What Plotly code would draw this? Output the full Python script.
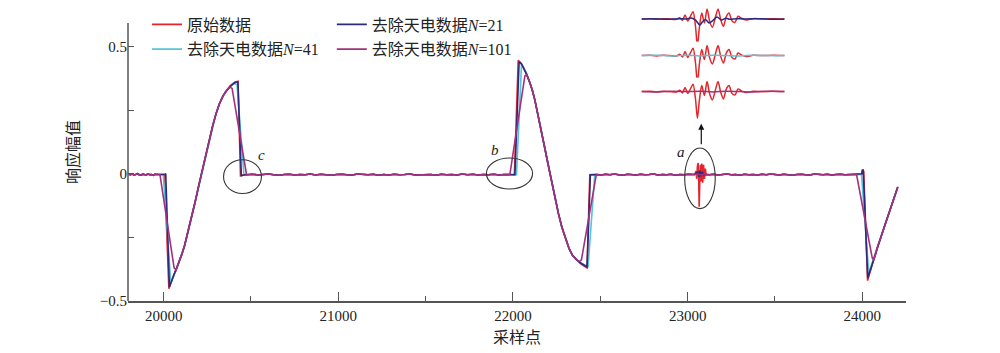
import plotly.graph_objects as go

# ---------------- data ----------------
# flat (noise) baseline segments shared by all series, values in 1/1000
segA_x = list(range(19800, 19971, 10))
segA_y = [-2, -4, -1, -5, -3, 0, -4, -6, -2, -3, -5, -1, -4, -3, -6, -2, -4, -3]
segB_x = list(range(20480, 21971, 30))
segB_y = [-4, -2, -5, -3, -1, -4, -6, -3, -2, -5, -3, -4, -1, -5, -2, -4, -6, -3, -2, -4,
          -5, -1, -3, -4, -2, -6, -3, -5, -2, -4, -3, -1, -5, -4, -2, -3, -6, -2, -4, -3,
          -5, -1, -4, -2, -5, -3, -4, -2, -5, -3]
segC1_x = list(range(22480, 23031, 25))
segC1_y = [-3, -5, -2, -4, -1, -4, -6, -2, -3, -5, -2, -4, -3, -1, -5, -3, -4, -2, -6, -3,
           -4, -2, -3]
segC2_x = list(range(23125, 23951, 25))
segC2_y = [-4, -2, -5, -3, -1, -4, -3, -6, -2, -4, -3, -5, -2, -4, -1, -3, -5, -2, -4, -6,
           -3, -2, -4, -5, -1, -3, -4, -2, -5, -3, -2, -4, -3, -2]

# shared smooth parts of the pulses
curve1_x = [20090, 20105, 20120, 20140, 20160, 20180, 20200, 20220, 20240, 20260, 20280,
            20300, 20320, 20340, 20355]
curve1_y = [-0.345, -0.315, -0.282, -0.228, -0.170, -0.112, -0.050, 0.012, 0.072, 0.130,
            0.186, 0.236, 0.276, 0.306, 0.322]
curve2_x = [22095, 22110, 22125, 22140, 22160, 22180, 22200, 22220, 22240, 22260, 22280,
            22300, 22320, 22340, 22360]
curve2_y = [0.36, 0.33, 0.29, 0.243, 0.176, 0.108, 0.040, -0.030, -0.095, -0.156, -0.21,
            -0.255, -0.292, -0.32, -0.336]
curve3_x = [24085, 24108, 24132, 24156, 24180, 24203]
curve3_y = [-0.292, -0.246, -0.196, -0.148, -0.1, -0.052]

# 原始数据 (original)
raw_p1_x = [20005, 20030, 20038, 20060, 20075]
raw_p1_y = [-0.003, -0.452, -0.435, -0.395, -0.37]
raw_p1e_x = [20380, 20410, 20426, 20440, 20462]
raw_p1e_y = [0.345, 0.36, 0.363, -0.008, -0.004]
raw_p2_x = [22008, 22030, 22045, 22062, 22077]
raw_p2_y = [-0.004, 0.446, 0.435, 0.415, 0.392]
raw_p2e_x = [22385, 22405, 22424, 22440, 22460]
raw_p2e_y = [-0.352, -0.362, -0.37, -0.004, -0.003]
raw_sf_x = [23040, 23048, 23052, 23056, 23060, 23063, 23066, 23069, 23073, 23077, 23081,
            23086, 23091, 23096, 23101, 23106, 23112]
raw_sf_y = [-0.003, 0.01, -0.02, 0.03, 0.042, -0.02, -0.13, -0.04, 0.035, -0.03, 0.04,
            -0.035, 0.035, -0.02, 0.02, -0.005, -0.003]
raw_p3_x = [23998, 24002, 24008, 24030, 24036, 24068]
raw_p3_y = [-0.002, 0.012, 0.01, -0.42, -0.405, -0.335]

# 去除天电数据 N=21
n21_p1_x = [20008, 20012, 20033, 20040, 20060, 20075]
n21_p1_y = [-0.002, 0.0, -0.445, -0.43, -0.395, -0.37]
n21_p1e_x = [20385, 20408, 20425, 20445, 20465]
n21_p1e_y = [0.345, 0.358, 0.36, -0.008, -0.004]
n21_p2_x = [22011, 22035, 22050, 22064, 22077]
n21_p2_y = [-0.004, 0.44, 0.43, 0.413, 0.392]
n21_p2e_x = [22385, 22405, 22424, 22443, 22460]
n21_p2e_y = [-0.35, -0.36, -0.366, -0.004, -0.003]
n21_sf_x = [23040, 23058, 23064, 23070, 23076, 23084, 23092, 23100, 23112]
n21_sf_y = [-0.003, 0.006, -0.012, 0.012, -0.01, 0.008, -0.006, -0.002, -0.003]
n21_p3_x = [23996, 24000, 24005, 24031, 24040, 24068]
n21_p3_y = [0.0, 0.014, 0.014, -0.41, -0.39, -0.335]

# 去除天电数据 N=41
n41_p1_x = [19998, 20041, 20071]
n41_p1_y = [-0.003, -0.43, -0.38]
n41_p1e_x = [20375, 20390, 20400, 20420, 20460]
n41_p1e_y = [0.338, 0.35, 0.356, 0.35, -0.005]
n41_p2_x = [22020, 22049, 22077]
n41_p2_y = [-0.004, 0.431, 0.395]
n41_p2e_x = [22385, 22410, 22430, 22468]
n41_p2e_y = [-0.35, -0.36, -0.365, -0.004]
n41_sf_x = [23040, 23060, 23075, 23090, 23112]
n41_sf_y = [-0.004, -0.002, -0.005, -0.002, -0.004]
n41_p3_x = [23995, 24037, 24070]
n41_p3_y = [-0.002, -0.39, -0.328]

# 去除天电数据 N=101
n101_p1_x = [19979, 20060, 20071]
n101_p1_y = [-0.004, -0.37, -0.378]
n101_p1e_x = [20368, 20380, 20392, 20475]
n101_p1e_y = [0.334, 0.34, 0.335, -0.005]
n101_p2_x = [21982, 22068, 22077, 22086]
n101_p2_y = [-0.004, 0.384, 0.388, 0.378]
n101_p2e_x = [22372, 22382, 22392, 22477]
n101_p2e_y = [-0.342, -0.344, -0.338, -0.004]
n101_sf_x = [23040, 23058, 23072, 23088, 23112]
n101_sf_y = [-0.003, -0.001, -0.005, -0.002, -0.004]
n101_p3_x = [23967, 24057, 24064, 24072]
n101_p3_y = [-0.003, -0.332, -0.337, -0.326]

# inset (zoom of region a), arbitrary units
ins_x = [65, 90, 110, 130, 150, 170, 180, 188, 196, 204, 212, 220, 227, 233, 239, 246, 254,
         262, 270, 278, 287, 295, 303, 311, 320, 328, 337, 346, 355, 365, 380, 400, 430, 460, 495]
ins_raw = [0, 1, -1, 1, 0, -1, 4, -4, 12, -6, 8, 22, -20, -80, -25, 18, -12,
           30, -8, -25, 5, 30, -2, -22, 8, 18, -6, -10, 8, 2, -3, 1, 0, 1, 0]
ins21_x = [65, 100, 140, 180, 200, 215, 228, 240, 250, 258, 268, 280, 292, 305, 318, 330,
           350, 380, 420, 460, 495]
ins21_y = [0, 1, -1, 1, 0, 3, -4, -18, -6, -2, -12, -4, 6, -3, 2, -1, 1, 0, 1, -1, 0]
insf_x = [65, 110, 160, 200, 240, 280, 320, 360, 400, 450, 495]
ins41_y = [0, 1, -1, 1, -1, 1, 0, -1, 1, 0, 0]
ins101_y = [0, -1, 1, 0, 1, -1, 1, 0, -1, 1, 0]

C_RAW = "#e3262b"
C_21 = "#2c2a7c"
C_41 = "#55c3d8"
C_101 = "#a2307e"


def series(p1x, p1y, p1ex, p1ey, p2x, p2y, p2ex, p2ey, sfx, sfy, p3x, p3y):
    xs = (segA_x + p1x + curve1_x + p1ex + segB_x + p2x + curve2_x + p2ex +
          segC1_x + sfx + segC2_x + p3x + curve3_x)
    ys = ([v / 1000 for v in segA_y] + p1y + curve1_y + p1ey + [v / 1000 for v in segB_y] +
          p2y + curve2_y + p2ey + [v / 1000 for v in segC1_y] + sfy +
          [v / 1000 for v in segC2_y] + p3y + curve3_y)
    return xs, ys


raw = series(raw_p1_x, raw_p1_y, raw_p1e_x, raw_p1e_y, raw_p2_x, raw_p2_y, raw_p2e_x, raw_p2e_y,
             raw_sf_x, raw_sf_y, raw_p3_x, raw_p3_y)
s21 = series(n21_p1_x, n21_p1_y, n21_p1e_x, n21_p1e_y, n21_p2_x, n21_p2_y, n21_p2e_x, n21_p2e_y,
             n21_sf_x, n21_sf_y, n21_p3_x, n21_p3_y)
s41 = series(n41_p1_x, n41_p1_y, n41_p1e_x, n41_p1e_y, n41_p2_x, n41_p2_y, n41_p2e_x, n41_p2e_y,
             n41_sf_x, n41_sf_y, n41_p3_x, n41_p3_y)
s101 = series(n101_p1_x, n101_p1_y, n101_p1e_x, n101_p1e_y, n101_p2_x, n101_p2_y, n101_p2e_x,
              n101_p2e_y, n101_sf_x, n101_sf_y, n101_p3_x, n101_p3_y)

SERIF = "'Liberation Serif', 'Noto Sans CJK SC', serif"
NUMF = "'Liberation Serif', serif"
CJK = "'Noto Sans CJK SC', sans-serif"
fig = go.Figure()
LW = 1.6
fig.add_trace(go.Scatter(x=raw[0], y=raw[1], mode="lines", name="原始数据",
                         line=dict(color=C_RAW, width=LW), legend="legend", legendgroup="a"))
fig.add_trace(go.Scatter(x=s41[0], y=s41[1], mode="lines", name="去除天电数据<i>N</i>=41",
                         line=dict(color=C_41, width=LW), legend="legend", legendgroup="c"))
fig.add_trace(go.Scatter(x=s21[0], y=s21[1], mode="lines", name="去除天电数据<i>N</i>=21",
                         line=dict(color=C_21, width=LW), legend="legend2", legendgroup="b"))
fig.add_trace(go.Scatter(x=s101[0], y=s101[1], mode="lines", name="去除天电数据<i>N</i>=101",
                         line=dict(color=C_101, width=LW), legend="legend2", legendgroup="d"))

# inset rows
for ya, fx, fy, col in [("y2", ins21_x, ins21_y, C_21), ("y3", insf_x, ins41_y, C_41),
                        ("y4", insf_x, ins101_y, C_101)]:
    fig.add_trace(go.Scatter(x=ins_x, y=ins_raw, xaxis="x2", yaxis=ya, mode="lines",
                             line=dict(color=C_RAW, width=1.5, shape="spline", smoothing=0.8),
                             showlegend=False))
    fig.add_trace(go.Scatter(x=fx, y=fy, xaxis="x2", yaxis=ya, mode="lines",
                             line=dict(color=col, width=1.5, shape="spline", smoothing=0.8),
                             showlegend=False))

AX = "#555555"
fig.update_layout(
    width=1000, height=353,
    margin=dict(l=128, r=93.5, t=3, b=51.5),
    paper_bgcolor="white", plot_bgcolor="white",
    font=dict(family=SERIF, size=15, color="#222"),
    xaxis=dict(range=[19796, 24250], showgrid=False, zeroline=False, showline=True,
               linecolor=AX, linewidth=1.5, ticks="inside", ticklen=9, tickcolor=AX,
               tickwidth=1.3, dtick=1000, tick0=20000, tickformat="d",
               tickfont=dict(family=NUMF, size=15, color="#222"),
               minor=dict(dtick=500, ticks="inside", ticklen=5, tickcolor=AX, tickwidth=1.3),
               title=dict(text="采样点", font=dict(family=CJK, size=16), standoff=6)),
    yaxis=dict(range=[-0.5, 0.6706], showgrid=False, zeroline=False, showline=False,
               ticks="inside", ticklen=6, tickcolor=AX, tickwidth=1.3,
               tickvals=[-0.5, 0, 0.5], ticktext=["\u22120.5", "0", "0.5"],
               tickfont=dict(family=NUMF, size=15, color="#222"),
               minor=dict(tickvals=[-0.25, 0.25], ticks="inside", ticklen=6,
                          tickcolor=AX, tickwidth=1.3),
               title=dict(text="响应幅值", font=dict(family=CJK, size=16), standoff=16)),
    xaxis2=dict(domain=[0.660, 0.844], range=[65, 495], visible=False, anchor="y2"),
    yaxis2=dict(domain=[0.8459, 0.9933], range=[-90, 42], visible=False, anchor="x2"),
    yaxis3=dict(domain=[0.7229, 0.8704], range=[-90, 42], visible=False, anchor="x2"),
    yaxis4=dict(domain=[0.6023, 0.7497], range=[-90, 42], visible=False, anchor="x2"),
    legend=dict(x=0.0244, y=0.985, xanchor="left", yanchor="top", bgcolor="rgba(0,0,0,0)",
                font=dict(family=SERIF, size=16, color="#222"), tracegroupgap=1,
                itemwidth=30),
    legend2=dict(x=0.262, y=0.985, xanchor="left", yanchor="top", bgcolor="rgba(0,0,0,0)",
                 font=dict(family=SERIF, size=16, color="#222"), tracegroupgap=1,
                 itemwidth=30),
    showlegend=True,
)

# left axis line
fig.add_shape(type="line", xref="paper", yref="y", x0=0, x1=0, y0=-0.5, y1=0.592,
              line=dict(color=AX, width=1.5))

# ellipses
ELL = dict(color="#333333", width=1.1)
fig.add_shape(type="circle", xref="x", yref="y", x0=20343, x1=20560, y0=-0.078, y1=0.055, line=ELL)
fig.add_shape(type="circle", xref="x", yref="y", x0=21848, x1=22112, y0=-0.060, y1=0.0616, line=ELL)
fig.add_shape(type="circle", xref="x", yref="y", x0=22983, x1=23158, y0=-0.137, y1=0.101, line=ELL)

for txt, xx, yy in [("c", 20558, 0.075), ("b", 21896, 0.094), ("a", 22964, 0.084)]:
    fig.add_annotation(x=xx, y=yy, xref="x", yref="y", text="<i>%s</i>" % txt, showarrow=False,
                       font=dict(family=NUMF, size=15, color="#222"))

fig.add_annotation(x=23078, y=0.196, xref="x", yref="y", ax=0, ay=22, text="", showarrow=True,
                   arrowhead=2, arrowsize=1, arrowwidth=1.2, arrowcolor="#111")

fig.write_html("out.html")
